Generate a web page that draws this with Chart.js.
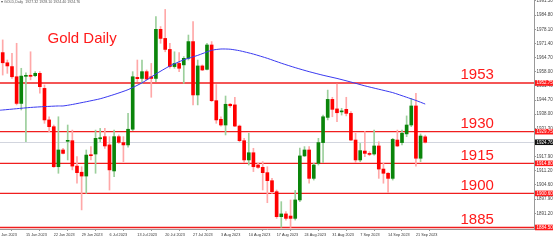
<!DOCTYPE html>
<html><head><meta charset="utf-8">
<script src="https://cdn.jsdelivr.net/npm/chart.js@4.4.0/dist/chart.umd.min.js"></script>
<style>html,body{margin:0;padding:0;background:#fff;overflow:hidden}canvas{display:block}</style>
</head><body>
<canvas id="c" width="553" height="240"></canvas>
<script>
// Daily candles (bar index 0 = 9 Jun 2023, 6 bars per week incl. Sunday bars)
const openP  = [1967.1,1962.3,1960.5,1955.7,1943.1,1955.9,1956.4,1956.2,1957.3,1950.2,1935.3,1932.1,1913.2,1921.1,1925.2,1925.5,1913.5,1910.6,1908.8,1918.7,1919.2,1926.4,1927.4,1923.5,1911.2,1927.4,1924.6,1923.5,1930.9,1955.4,1954.9,1958.1,1955.7,1954.9,1978.1,1973.8,1968.6,1960.5,1962.0,1961.3,1964.4,1972.3,1947.1,1960.8,1959.2,1970.7,1944.4,1935.6,1932.9,1942.7,1942.4,1932.4,1925.5,1916.4,1919.8,1914.0,1912.9,1910.4,1906.6,1901.4,1889.6,1890.9,1889.9,1888.8,1897.5,1918.3,1921.1,1907.7,1914.8,1924.6,1936.5,1945.0,1940.5,1939.1,1940.3,1938.4,1925.8,1916.4,1920.6,1919.5,1919.2,1923.0,1912.1,1910.1,1907.7,1925.8,1924.6,1928.7,1932.9,1941.9,1917.2,1927.32];
const highP  = [1973.1,1963.6,1966.8,1971.5,1959.7,1957.5,1967.5,1958.1,1958.1,1951.8,1936.8,1932.9,1936.8,1921.9,1932.9,1930.5,1918.0,1913.2,1921.1,1922.7,1930.5,1931.3,1931.3,1927.4,1930.5,1928.2,1927.4,1938.4,1958.1,1963.6,1963.6,1958.9,1962.0,1984.1,1979.4,1987.5,1971.5,1967.5,1967.1,1965.2,1975.4,1981.7,1963.6,1961.3,1971.5,1972.3,1952.0,1936.8,1946.6,1943.1,1946.0,1932.9,1926.6,1929.0,1921.9,1914.8,1915.6,1913.2,1907.7,1902.2,1896.7,1892.0,1897.5,1902.0,1922.0,1922.7,1922.7,1914.8,1926.6,1937.6,1949.4,1946.0,1952.2,1940.8,1946.0,1939.2,1929.0,1924.2,1929.8,1920.3,1930.5,1925.0,1914.8,1910.4,1926.6,1930.5,1930.5,1937.2,1945.5,1947.9,1928.7,1928.10];
const lowP   = [1956.5,1957.3,1954.9,1942.4,1940.0,1925.0,1954.2,1955.7,1947.9,1933.7,1929.8,1912.9,1910.1,1919.2,1916.4,1911.7,1905.4,1892.8,1900.6,1916.4,1910.1,1925.0,1921.9,1902.2,1908.5,1924.2,1915.6,1922.4,1930.2,1953.4,1952.6,1954.2,1946.0,1953.4,1971.5,1967.5,1959.7,1959.7,1958.1,1952.6,1963.6,1942.4,1942.4,1958.6,1958.9,1943.9,1933.7,1932.4,1928.2,1941.2,1932.1,1925.0,1915.1,1914.0,1910.9,1912.4,1902.2,1896.2,1900.6,1888.8,1884.6,1888.0,1884.5,1888.0,1896.7,1918.0,1905.4,1906.9,1914.0,1915.1,1935.3,1936.8,1934.5,1937.6,1937.2,1925.5,1915.1,1915.6,1918.0,1918.4,1918.7,1907.7,1905.4,1900.9,1906.9,1922.7,1923.5,1927.4,1932.1,1913.5,1915.6,1924.40];
const closeP = [1962.3,1960.8,1955.7,1943.1,1956.0,1956.2,1955.9,1957.3,1951.0,1935.3,1932.1,1913.2,1921.1,1919.5,1925.5,1913.5,1910.4,1908.8,1918.7,1918.4,1926.6,1926.9,1923.0,1911.7,1927.4,1924.7,1923.5,1930.9,1955.7,1954.8,1958.1,1954.6,1954.9,1978.1,1973.8,1968.6,1960.5,1962.0,1959.7,1964.4,1972.3,1947.1,1960.8,1958.9,1970.7,1944.4,1935.3,1932.9,1942.7,1942.0,1932.4,1925.5,1916.4,1919.8,1913.2,1912.9,1910.4,1906.6,1901.4,1889.6,1890.9,1888.8,1888.8,1897.5,1918.3,1921.1,1907.7,1914.0,1924.6,1936.8,1945.0,1940.3,1938.7,1939.5,1938.4,1925.8,1916.4,1920.8,1919.5,1919.0,1923.0,1912.1,1910.1,1907.7,1926.1,1923.0,1929.0,1932.9,1941.9,1917.2,1927.7,1924.76];

// Moving average (blue line), read at these bar indices
const maIndex = [-1,0,3,6,9,12,13,15,18,21,24,27,30,33,36,39,42,45,47,49,51,54,57,60,63,66,69,72,75,78,81,84,87,89,91];
const maValue = [1939.8,1940.0,1940.6,1941.2,1941.6,1941.9,1941.9,1942.6,1943.9,1945.3,1947.3,1949.6,1952.8,1957.0,1960.8,1963.7,1965.8,1968.2,1968.8,1968.7,1968.0,1966.4,1964.4,1962.1,1960.0,1958.1,1956.4,1954.9,1953.2,1951.4,1949.8,1948.2,1946.0,1944.5,1942.8];

// Horizontal levels
const levels = [1952.75, 1929.75, 1914.80, 1900.60, 1884.50];
const levelNames = ['1953', '1930', '1915', '1900', '1885'];
const lastPrice = 1924.76;

// Axis tick labels
const yTicks = [1891.20,1897.90,1904.60,1911.20,1917.90,1924.60,1931.30,1938.00,1944.70,1951.40,1958.00,1964.70,1971.40,1978.10,1984.80,1991.50];
const xTickIndex = [-1,5,11,17,23,29,35,41,47,53,59,65,71,77,83,89];
const xTickLabels = ['8 Jun 2023','15 Jun 2023','22 Jun 2023','29 Jun 2023','6 Jul 2023','13 Jul 2023','20 Jul 2023','27 Jul 2023','3 Aug 2023','10 Aug 2023','17 Aug 2023','24 Aug 2023','31 Aug 2023','7 Sep 2023','14 Sep 2023','21 Sep 2023'];

const titleText = 'Gold Daily';
const headerText = '\u25BE GOLD,Daily  1927.32 1928.10 1924.40 1924.76';

const FAMILY = '"Liberation Sans", Arial, sans-serif';
const RED = '#ff0000', GREEN = '#0a850a';
const WICK_RED = '#ffa8a8', WICK_GREEN = '#9ccf9c';

const idx = openP.map((_, i) => i);
const isUp = idx.map(i => closeP[i] >= openP[i]);

const overlay = {
  id: 'overlay',
  beforeDatasetsDraw(chart) {
    const {ctx, chartArea: a, scales: {y}} = chart;
    ctx.save();
    ctx.lineWidth = 1;
    const py = Math.floor(y.getPixelForValue(lastPrice)) + 0.5;
    ctx.strokeStyle = '#d2d5de';
    ctx.beginPath(); ctx.moveTo(a.left, py); ctx.lineTo(a.right, py); ctx.stroke();
    ctx.lineWidth = 1.3;
    levels.forEach(v => {
      const p = y.getPixelForValue(v);
      ctx.strokeStyle = 'rgb(240,30,30)';
      ctx.beginPath(); ctx.moveTo(a.left, p); ctx.lineTo(a.right, p); ctx.stroke();
    });
    ctx.restore();
  },
  afterDraw(chart) {
    const {ctx, chartArea: a, scales: {y}} = chart;
    ctx.save();
    ctx.fillStyle = '#ff1a1a';
    ctx.font = '15px ' + FAMILY;
    ctx.textAlign = 'left';
    ctx.textBaseline = 'alphabetic';
    levels.forEach((v, k) => {
      const p = y.getPixelForValue(v);
      ctx.fillText(levelNames[k], 460.5, p - 3.5);
    });
    ctx.fillText(titleText, 47.5, 42.5);
    ctx.fillStyle = '#555';
    ctx.font = '3.6px ' + FAMILY;
    ctx.fillText(headerText, 1, 2.6);
    ctx.font = '4.5px ' + FAMILY;
    ctx.textBaseline = 'middle';
    const box = (v, bg) => {
      const p = y.getPixelForValue(v);
      ctx.fillStyle = bg;
      ctx.fillRect(a.right + 1, p - 2.8, 18, 5.6);
      ctx.fillStyle = '#fff';
      ctx.fillText(v.toFixed(2), a.right + 2.5, p + 0.2);
    };
    levels.forEach(v => box(v, '#ff1a1a'));
    box(lastPrice, '#111');
    ctx.restore();
  }
};

new Chart(document.getElementById('c'), {
  type: 'bar',
  data: {
    datasets: [
      { type: 'line', data: maIndex.map((x, k) => ({x, y: maValue[k]})), borderColor: '#3a3af0', borderWidth: 1, pointRadius: 0, tension: 0.2, order: 0 },
      { data: idx.map(i => ({x: i, y: [openP[i], closeP[i]]})), backgroundColor: idx.map(i => isUp[i] ? GREEN : RED), barThickness: 3, grouped: false, minBarLength: 1, order: 1 },
      { data: idx.map(i => ({x: i, y: [lowP[i], highP[i]]})), backgroundColor: idx.map(i => isUp[i] ? WICK_GREEN : WICK_RED), barThickness: 1, grouped: false, order: 2 }
    ]
  },
  options: {
    responsive: false, animation: false, devicePixelRatio: 1,
    layout: { padding: 0 },
    plugins: { legend: { display: false }, tooltip: { enabled: false } },
    scales: {
      x: {
        type: 'linear', min: -0.58, max: 114.43, offset: false,
        afterBuildTicks: s => { s.ticks = xTickIndex.map(v => ({value: v})); },
        afterFit: s => { s.height = 11; s.paddingLeft = 0; s.paddingRight = 0; },
        ticks: { autoSkip: false, maxRotation: 0, minRotation: 0, align: 'start', padding: 1.5, color: '#333', font: { family: FAMILY, size: 3.8 }, callback: (v, i) => xTickLabels[i] },
        grid: { drawOnChartArea: false, tickLength: 2, color: '#999' },
        border: { color: '#999' }
      },
      y: {
        type: 'linear', position: 'right', min: 1883.78, max: 1991.95,
        afterBuildTicks: s => { s.ticks = yTicks.map(v => ({value: v})); },
        afterFit: s => { s.width = 19; s.paddingTop = 0; s.paddingBottom = 0; },
        ticks: { autoSkip: false, padding: 0.5, color: '#444', font: { family: FAMILY, size: 4.5 }, callback: v => Number(v).toFixed(2) },
        grid: { drawOnChartArea: false, tickLength: 2, color: '#999' },
        border: { color: '#999' }
      }
    }
  },
  plugins: [overlay]
});
</script>
</body></html>
